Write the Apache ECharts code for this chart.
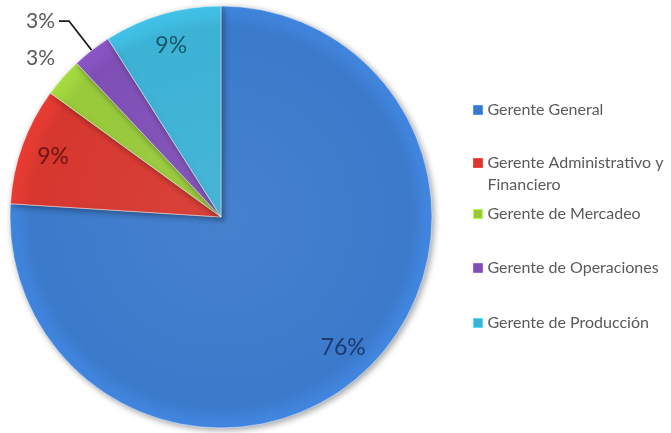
<!DOCTYPE html>
<html>
<head>
<meta charset="utf-8">
<script src="https://cdn.jsdelivr.net/npm/echarts@6/dist/echarts.min.js"></script>
<style>
  html, body { margin: 0; padding: 0; background: #ffffff; }
  #chart { width: 671px; height: 433px; }
</style>
</head>
<body>
<div id="chart"></div>
<script>
// Distribución por cargo (porcentajes)
const categories = [
  'Gerente General',
  'Gerente Administrativo y\nFinanciero',
  'Gerente de Mercadeo',
  'Gerente de Operaciones',
  'Gerente de Producción'
];
const values = [76, 9, 3, 3, 9];
const colors = ['#3b7acb', '#d6372f', '#97c93a', '#7f4fb6', '#3cb2d5'];
const innerLabelColors = ['#1c3a6e', '#6e1512', '#000000', '#000000', '#145a6b'];
const legendCenters = [110, 163, 214, 268, 323];

const CX = 221, CY = 217, R = 211;
const FONT = 'Lato, "Open Sans", sans-serif';

function shade(hex) {
  // darker rim around the whole pie, in pixel coordinates
  return {
    type: 'radial', x: CX, y: CY, r: R, global: true,
    colorStops: [
      { offset: 0, color: echarts.color.lift(hex, 0.06) },
      { offset: 0.9, color: hex },
      { offset: 1, color: echarts.color.lift(hex, -0.12) }
    ]
  };
}

const mainData = categories.map((name, i) => {
  const item = { name, value: values[i], itemStyle: { color: shade(colors[i]) }, label: { show: false } };
  if (i === 2) {
    item.label = { show: true, position: 'outside', distanceToLabelLine: -14 };
    item.labelLine = { show: false, length: 29, length2: 0 };
  }
  if (i === 3) {
    item.label = { show: true, position: 'outside', distanceToLabelLine: 4, padding: [0, 0, 10, 0] };
    item.labelLine = { show: true, length: 37, length2: 10, lineStyle: { color: '#1a1a1a', width: 1.8 } };
  }
  return item;
});

const labelData = categories.map((name, i) => ({
  name, value: values[i],
  label: { show: i === 0 || i === 1 || i === 4, color: innerLabelColors[i] }
}));

const legends = categories.map((name, i) => {
  const twoLine = name.indexOf('\n') >= 0;
  return {
    orient: 'vertical',
    left: 473,
    top: legendCenters[i] - (twoLine ? 33 : 11),
    padding: 0,
    itemWidth: 9,
    itemHeight: 9,
    icon: 'rect',
    selectedMode: false,
    // multi-line entry: a blank first line keeps the marker beside the first text line
    formatter: twoLine ? (n) => ' \n' + n : '{name}',
    data: [{ name, itemStyle: { color: colors[i], borderColor: echarts.color.lift(colors[i], -0.25), borderWidth: 1 } }],
    textStyle: { fontFamily: FONT, fontSize: 16, color: '#5a5a5a', lineHeight: 22 }
  };
});

const chart = echarts.init(document.getElementById('chart'), null, { renderer: 'canvas' });
chart.setOption({
  animation: false,
  backgroundColor: '#ffffff',
  legend: legends,
  series: [
    {
      type: 'pie',
      center: [CX, CY],
      radius: [0, R],
      startAngle: 90,
      clockwise: true,
      avoidLabelOverlap: false,
      silent: true,
      itemStyle: {
        borderColor: 'rgba(255,255,255,0.5)',
        borderWidth: 1,
        shadowBlur: 6,
        shadowOffsetX: 2,
        shadowOffsetY: 2,
        shadowColor: 'rgba(0,0,0,0.35)'
      },
      label: {
        formatter: '{c}%',
        fontFamily: FONT,
        fontSize: 21,
        color: '#595959'
      },
      data: mainData
    },
    {
      // transparent ring used only to place the in-slice percentages
      type: 'pie',
      center: [CX, CY],
      radius: [140, R],
      startAngle: 90,
      clockwise: true,
      silent: true,
      avoidLabelOverlap: false,
      itemStyle: { color: 'rgba(0,0,0,0)', borderWidth: 0 },
      labelLine: { show: false },
      label: {
        position: 'inside',
        formatter: '{c}%',
        fontFamily: FONT,
        fontSize: 23
      },
      data: labelData
    }
  ]
});
</script>
</body>
</html>
